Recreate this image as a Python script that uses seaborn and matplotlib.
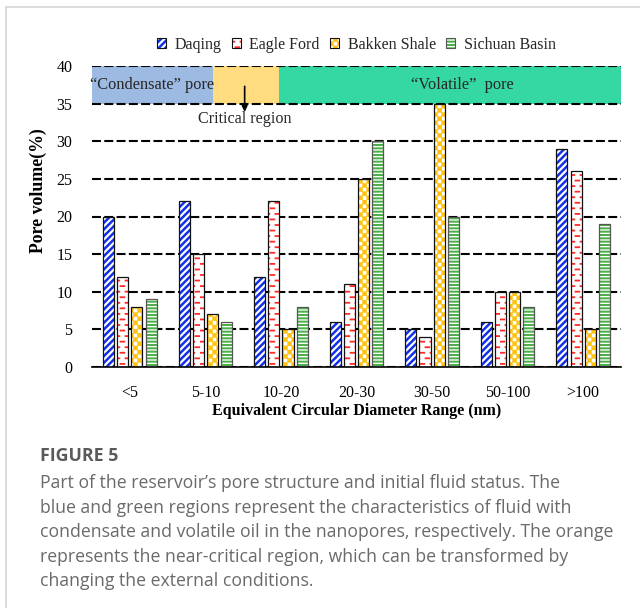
import numpy as np
import pandas as pd
import matplotlib
matplotlib.use("Agg")
import matplotlib.pyplot as plt
import matplotlib.hatch as mhatch
from matplotlib.path import Path
from matplotlib.patches import Patch, Rectangle
from matplotlib.lines import Line2D
import seaborn as sns

# ---------------------------------------------------------------- data
categories = ["<5", "5-10", "10-20", "20-30", "30-50", "50-100", ">100"]
fields = ["Daqing", "Eagle Ford", "Bakken Shale", "Sichuan Basin"]
daqing = [20, 22, 12, 6, 5, 6, 29]
eagle_ford = [12, 15, 22, 11, 4, 10, 26]
bakken = [8, 7, 5, 25, 35, 10, 5]
sichuan = [9, 6, 8, 30, 20, 8, 19]
y_ticks = [0, 5, 10, 15, 20, 25, 30, 35, 40]

caption_title = "FIGURE 5"
caption_lines = [
    "Part of the reservoir\u2019s pore structure and initial fluid status. The",
    "blue and green regions represent the characteristics of fluid with",
    "condensate and volatile oil in the nanopores, respectively. The orange",
    "represents the near-critical region, which can be transformed by",
    "changing the external conditions.",
]


# ------------------------------------------------------- custom hatches
class DashRows(mhatch.HatchPatternBase):
    """Staggered short horizontal dashes (selected with '|')."""

    def __init__(self, hatch, density):
        k = hatch.count("|")
        self.rows = 18 * k
        self.per_row = 10 * k
        self.num_vertices = self.rows * self.per_row * 2

    def set_vertices_and_codes(self, vertices, codes):
        p = 1.0 / self.per_row
        dy = 1.0 / self.rows
        idx = 0
        for r in range(self.rows):
            y = (r + 0.5) * dy
            off = 0.05 if r % 2 == 0 else 0.55
            for j in range(self.per_row):
                x0 = j * p + off * p
                vertices[idx] = (x0, y)
                vertices[idx + 1] = (x0 + 0.38 * p, y)
                codes[idx] = Path.MOVETO
                codes[idx + 1] = Path.LINETO
                idx += 2


class Checker(mhatch.HatchPatternBase):
    """Filled checkerboard squares (selected with '*')."""

    def __init__(self, hatch, density):
        k = hatch.count("*")
        self.cells = 24 if k else 0
        self.num_vertices = (self.cells * self.cells // 2) * 5

    def set_vertices_and_codes(self, vertices, codes):
        n = self.cells
        s = 1.0 / n
        idx = 0
        for i in range(n):
            for j in range(n):
                if (i + j) % 2:
                    continue
                x0, y0 = i * s, j * s
                vertices[idx:idx + 5] = [(x0, y0), (x0 + s, y0), (x0 + s, y0 + s),
                                         (x0, y0 + s), (x0, y0)]
                codes[idx:idx + 5] = [Path.MOVETO, Path.LINETO, Path.LINETO,
                                      Path.LINETO, Path.CLOSEPOLY]
                idx += 5


for i, cls in enumerate(mhatch._hatch_types):
    if cls is mhatch.VerticalHatch:
        mhatch._hatch_types[i] = DashRows
    elif cls is mhatch.Stars:
        mhatch._hatch_types[i] = Checker

# ---------------------------------------------------------------- style
sns.set_theme(style="white")
plt.rcParams["font.family"] = ["Liberation Serif", "DejaVu Serif"]
plt.rcParams["hatch.linewidth"] = 1.5

styles = {
    "Daqing": dict(hatch="/////", color="#1230E8", hlw=1.8, edge="#111111"),
    "Eagle Ford": dict(hatch="|", color="#FF2A2A", hlw=1.3, edge="#111111"),
    "Bakken Shale": dict(hatch="*", color="#FFC20E", hlw=0.3, edge="#111111"),
    "Sichuan Basin": dict(hatch="-----", color="#4DAF4A", hlw=1.45, edge="#555555"),
}


def apply_style(patch, st, lw=0.9):
    patch.set_facecolor("white")
    patch.set_edgecolor(st["edge"])
    patch.set_linewidth(lw)
    patch.set_hatch(st["hatch"])
    patch._hatch_color = matplotlib.colors.to_rgba(st["color"])
    if hasattr(patch, "set_hatch_linewidth"):
        patch.set_hatch_linewidth(st["hlw"])
    patch.stale = True


df = pd.DataFrame({
    "Range": np.repeat(categories, len(fields)),
    "Field": fields * len(categories),
    "Volume": np.ravel(np.column_stack([daqing, eagle_ford, bakken, sichuan])),
})

fig = plt.figure(figsize=(6.4, 6.08), dpi=100)
ax = fig.add_axes([92 / 640, 1 - 367 / 608, 529 / 640, 301 / 608])

sns.barplot(data=df, x="Range", y="Volume", hue="Field", order=categories,
            hue_order=fields, width=0.75, gap=0.22, palette=["white"] * 4,
            legend=False, errorbar=None, ax=ax, zorder=2)

for field, cont in zip(fields, ax.containers):
    for bar in cont:
        apply_style(bar, styles[field])

ax.set_xlim(-0.5, len(categories) - 0.5)
ax.set_ylim(0, 40)
ax.set_yticks(y_ticks)

# fluid-state bands across the top of the plot
bands = [(-0.5, 1.1, "#9DBAE2"), (1.1, 1.97, "#FFDC80"), (1.97, 6.5, "#35D7A2")]
for x0, x1, c in bands:
    ax.add_patch(Rectangle((x0, 35), x1 - x0, 5, facecolor=c, edgecolor="none",
                           zorder=0.2))

ax.yaxis.grid(True, color="black", linestyle=(0, (4.3, 1.6)), linewidth=1.5,
              zorder=0.5)
ax.set_axisbelow(True)
for g in ax.get_ygridlines():
    g.set_zorder(0.5)

for s in ["left", "top", "right"]:
    ax.spines[s].set_visible(False)
ax.spines["bottom"].set_color("black")
ax.spines["bottom"].set_linewidth(1.2)
ax.spines["bottom"].set_zorder(3)

ax.tick_params(axis="both", length=0, labelsize=11.5, colors="black")
ax.tick_params(axis="y", pad=14)
ax.tick_params(axis="x", pad=13)

ax.set_xlabel("Equivalent Circular Diameter Range (nm)", fontsize=11.5,
              fontweight="bold", color="black")
ax.set_ylabel("Pore volume(%)", fontsize=12.8, fontweight="bold", color="black")
ax.xaxis.set_label_coords(0.5, -0.118)
ax.yaxis.set_label_coords(-0.085, 0.585)

ax.text(0.3, 37.5, "\u201cCondensate\u201d pore", ha="center", va="center",
        fontsize=11.8, zorder=4)
ax.text(4.4, 37.5, "\u201cVolatile\u201d  pore", ha="center", va="center",
        fontsize=11.8, zorder=4)
ax.annotate("Critical region", xy=(1.52, 34.0), xytext=(1.52, 32.9),
            ha="center", va="center", fontsize=11.6, zorder=4)
ax.annotate("", xy=(1.52, 33.9), xytext=(1.52, 37.3),
            arrowprops=dict(arrowstyle="-|>", color="black", lw=1.2,
                            mutation_scale=8, shrinkA=0, shrinkB=0), zorder=4)

handles = []
for field in fields:
    h = Patch(facecolor="white", edgecolor="black", label=field)
    handles.append(h)
leg = ax.legend(handles=handles, loc="center", bbox_to_anchor=(0.5, 1.07),
                ncol=4, frameon=False, fontsize=11.5, handlelength=0.55,
                handleheight=0.6, handletextpad=0.55, columnspacing=0.65,
                borderaxespad=0)
for field, p in zip(fields, leg.get_patches()):
    apply_style(p, styles[field], lw=0.8)

# panel frame lines
fig.add_artist(Line2D([6 / 640, 1], [1 - 7 / 608] * 2, color="#d6d6d6", lw=1.2,
                      transform=fig.transFigure))
fig.add_artist(Line2D([6 / 640] * 2, [0, 1 - 7 / 608], color="#d6d6d6", lw=1.2,
                      transform=fig.transFigure))

# caption
cap_font = ["Open Sans", "DejaVu Sans"]
fig.text(40 / 640, 1 - 456 / 608, caption_title, family=cap_font,
         fontweight="bold", fontsize=12.8, color="#5a5a5a", va="center", ha="left")
for i, line in enumerate(caption_lines):
    fig.text(40 / 640, 1 - (483 + 24.6 * i) / 608, line, family=cap_font,
             fontsize=12.7, color="#6a6a6a", va="center", ha="left")

fig.savefig("out.png", dpi=100)
